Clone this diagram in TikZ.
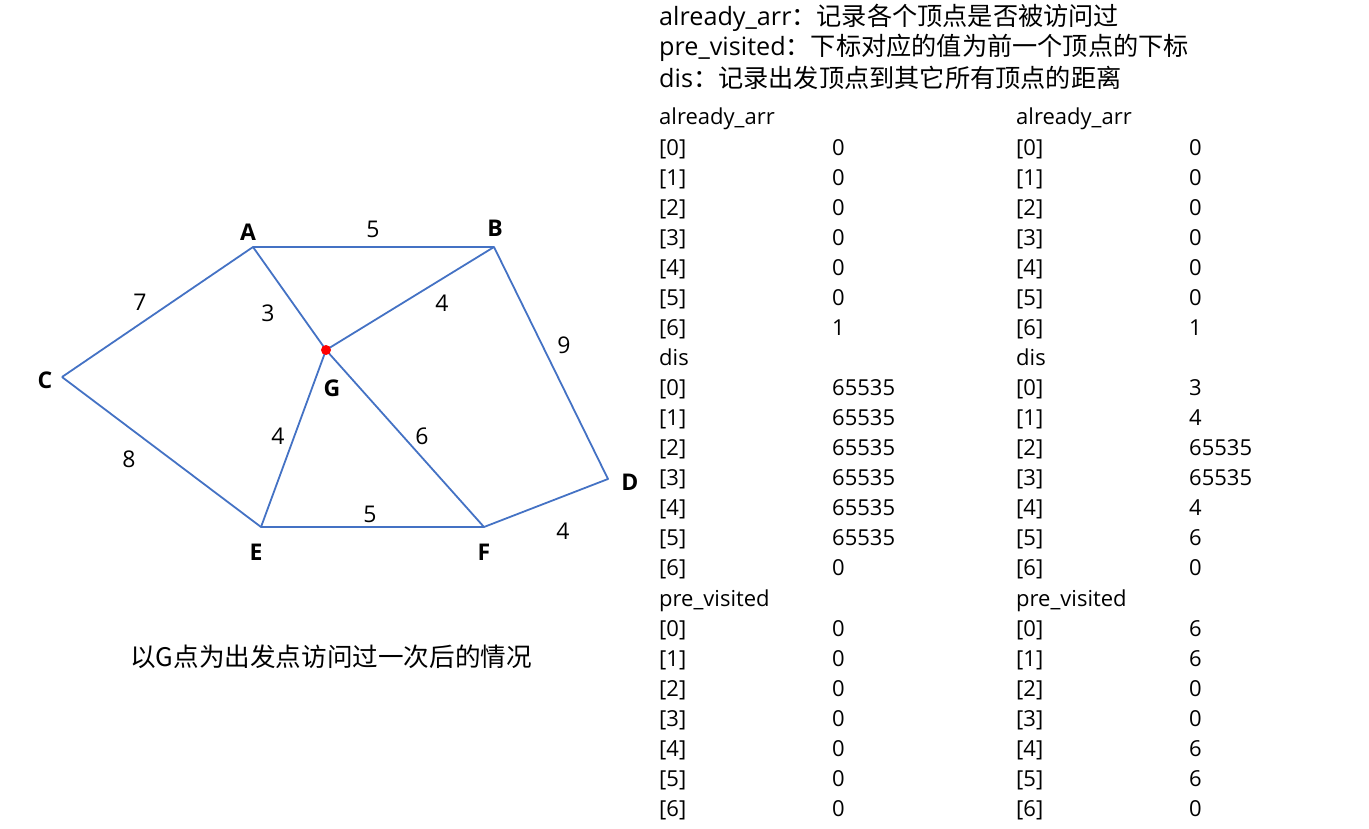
\documentclass[tikz,border=0pt]{standalone}
\usepackage{fontspec}
\setmainfont{Open Sans}
\newfontfamily\cjk{Noto Sans CJK SC}
\definecolor{edgeblue}{HTML}{4472C4}
\begin{document}
\begin{tikzpicture}[
  x=1pt, y=-1pt,
  font=\fontsize{22}{26}\selectfont,
  vertex/.style={inner sep=0pt, font=\fontsize{23}{26}\selectfont\bfseries},
  weight/.style={inner sep=0pt, font=\fontsize{23}{26}\selectfont},
  edge/.style={draw=edgeblue, line width=1.8pt, line join=round},
  head/.style={anchor=west, inner sep=0pt, font=\fontsize{25.2}{28}\selectfont},
  cell/.style={anchor=west, inner sep=0pt, text height=15pt, text depth=5pt}
]
\useasboundingbox (0,0) rectangle (1369,828);
% graph
\coordinate (A) at (253,247);
\coordinate (B) at (494,247);
\coordinate (C) at (62,377);
\coordinate (G) at (326,350);
\coordinate (D) at (608,479);
\coordinate (E) at (261,527);
\coordinate (F) at (484,527);
\draw[edge] (C) -- (A) -- (B) -- (D) -- (F) -- (E) -- (C);
\draw[edge] (A) -- (G);
\draw[edge] (B) -- (G);
\draw[edge] (E) -- (G);
\draw[edge] (F) -- (G);
\fill[red] (G) circle (5pt);
\node[vertex] (la) at (248,232) {A};
\node[vertex] (lb) at (495,228) {B};
\node[vertex] (lc) at (45,380) {C};
\node[vertex] (lg) at (332,388) {G};
\node[vertex] (ld) at (630,482) {D};
\node[vertex] (le) at (256,552) {E};
\node[vertex] (lf) at (484,552) {F};
\node[weight] (wab) at (373,229) {5};
\node[weight] (wac) at (140,302) {7};
\node[weight] (wag) at (268,313) {3};
\node[weight] (wbg) at (442,303) {4};
\node[weight] (wbd) at (564,345) {9};
\node[weight] (weg) at (278,436) {4};
\node[weight] (wfg) at (422,436) {6};
\node[weight] (wce) at (129,459) {8};
\node[weight] (wef) at (370,514) {5};
\node[weight] (wdf) at (563,531) {4};
\node[inner sep=0pt, font=\cjk\fontsize{25.6}{28}\selectfont] (caption) at (331,657) {以G点为出发点访问过一次后的情况};
% legend
\node[head] (h1) at (659,18) {already\_arr{\cjk ：记录各个顶点是否被访问过}};
\node[head] (h2) at (659,48) {pre\_visited{\cjk ：下标对应的值为前一个顶点的下标}};
\node[head] (h3) at (659,78) {dis{\cjk ：记录出发顶点到其它所有顶点的距离}};
% left table
\node[cell] (lalr) at (659,119) {already\_arr};
\foreach \v [count=\i from 0] in {0,0,0,0,0,0,1} {
  \node[cell] (lai\i) at (659,150+30*\i) {[\i]};
  \node[cell] (lav\i) at (832,150+30*\i) {\v};
}
\node[cell] (ldis) at (659,360) {dis};
\foreach \v [count=\i from 0] in {65535,65535,65535,65535,65535,65535,0} {
  \node[cell] (ldi\i) at (659,390+30*\i) {[\i]};
  \node[cell] (ldv\i) at (832,390+30*\i) {\v};
}
\node[cell] (lpre) at (659,601) {pre\_visited};
\foreach \v [count=\i from 0] in {0,0,0,0,0,0,0} {
  \node[cell] (lpi\i) at (659,631+30*\i) {[\i]};
  \node[cell] (lpv\i) at (832,631+30*\i) {\v};
}
% right table
\node[cell] (ralr) at (1016,119) {already\_arr};
\foreach \v [count=\i from 0] in {0,0,0,0,0,0,1} {
  \node[cell] (rai\i) at (1016,150+30*\i) {[\i]};
  \node[cell] (rav\i) at (1189,150+30*\i) {\v};
}
\node[cell] (rdis) at (1016,360) {dis};
\foreach \v [count=\i from 0] in {3,4,65535,65535,4,6,0} {
  \node[cell] (rdi\i) at (1016,390+30*\i) {[\i]};
  \node[cell] (rdv\i) at (1189,390+30*\i) {\v};
}
\node[cell] (rpre) at (1016,601) {pre\_visited};
\foreach \v [count=\i from 0] in {6,6,0,0,6,6,0} {
  \node[cell] (rpi\i) at (1016,631+30*\i) {[\i]};
  \node[cell] (rpv\i) at (1189,631+30*\i) {\v};
}
\end{tikzpicture}
\end{document}
